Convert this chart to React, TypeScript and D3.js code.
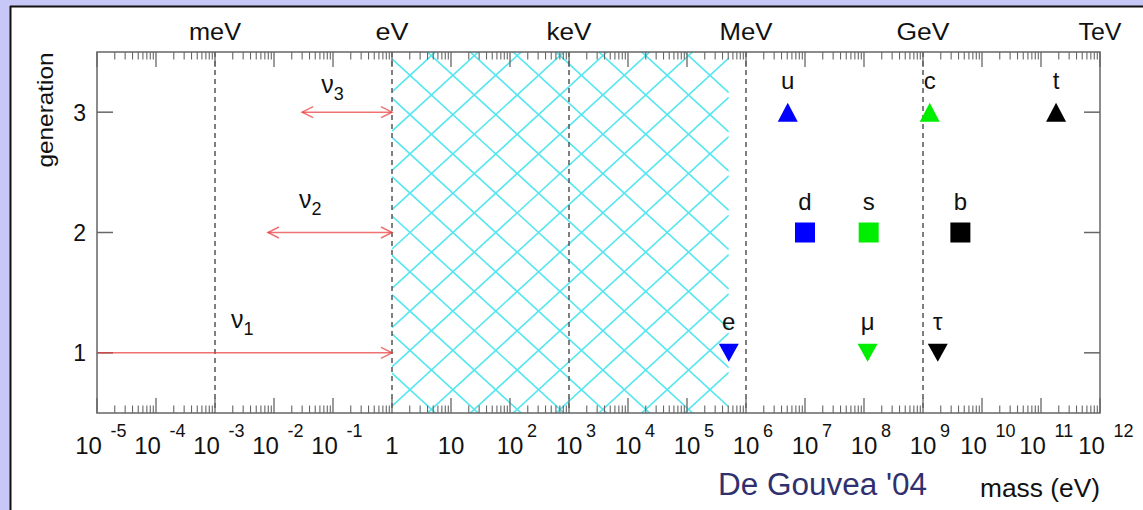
import React from "react";
import * as d3 from "d3";

const W = 1143;
const H = 510;
const FONT = "'Liberation Sans', Arial, Helvetica, sans-serif";

// ---- axis data ----
const xTickValues = [1e-5, 1e-4, 1e-3, 1e-2, 1e-1, 1, 1e1, 1e2, 1e3, 1e4, 1e5, 1e6, 1e7, 1e8, 1e9, 1e10, 1e11, 1e12];
const xTickBase = ["10", "10", "10", "10", "10", "1", "10", "10", "10", "10", "10", "10", "10", "10", "10", "10", "10", "10"];
const xTickSup = ["-5", "-4", "-3", "-2", "-1", "", "", "2", "3", "4", "5", "6", "7", "8", "9", "10", "11", "12"];
const unitLabels = ["meV", "eV", "keV", "MeV", "GeV", "TeV"];
const unitValues = [1e-3, 1, 1e3, 1e6, 1e9, 1e12];
const unitWidths = [52, 33, 45, 53, 53, 43];
const dashedValues = [1e-3, 1, 1e3, 1e6, 1e9];
const generations = [1, 2, 3];
const generationLabels = ["1", "2", "3"];

// ---- excluded (hatched) region, eV ----
const excludedRange = [1, 5.11e5];

// ---- neutrinos ----
const nuSub = ["1", "2", "3"];
const nuGen = [1, 2, 3];
const nuLow = [1e-5, 7.9e-3, 3.0e-2];
const nuHigh = [1, 1, 1];
const nuTwoSided = [false, true, true];
const nuLabelMass = [2.9e-3, 4.1e-2, 9.8e-2];
const nuLabelOffset = [25, 24.5, 19];

// ---- charged fermions ----
const fermionNames = ["u", "c", "t", "d", "s", "b", "e", "μ", "τ"];
const fermionGen = [3, 3, 3, 2, 2, 2, 1, 1, 1];
const fermionMass = [5.1e6, 1.3e9, 1.8e11, 1.0e7, 1.2e8, 4.3e9, 5.11e5, 1.15e8, 1.78e9];
const fermionShape = ["up", "up", "up", "square", "square", "square", "down", "down", "down"];
const fermionColor = ["#0000ff", "#00ee00", "#000000", "#0000ff", "#00ee00", "#000000", "#0000ff", "#00ee00", "#000000"];

export default function App() {
  const left = 97, right = 1100, top = 52, bottom = 413;
  const x = d3.scaleLog().domain([1e-5, 1e12]).range([left, right]);
  const y = d3.scaleLinear().domain([0.5, 3.5]).range([bottom, top]);

  const minorTicks: number[] = [];
  xTickValues.slice(0, -1).forEach((v) => {
    for (let m = 2; m <= 9; m++) minorTicks.push(v * m);
  });

  const axisColor = "#666";
  const tickMajor = 15, tickMinor = 7.5;

  // hatch
  const hx0 = x(excludedRange[0]);
  const hx1 = x(excludedRange[1]);
  const slope = 0.917;
  const period = 39.3;
  const ox = 410, oy = y(2);
  const hatch: string[] = [];
  for (let k = -30; k <= 30; k++) {
    const ya = (xx: number) => slope * (xx - ox) + oy + k * period;
    const yb = (xx: number) => -slope * (xx - ox) + oy + k * period;
    hatch.push(`M${hx0},${ya(hx0)}L${hx1},${ya(hx1)}`);
    hatch.push(`M${hx0},${yb(hx0)}L${hx1},${yb(hx1)}`);
  }

  const red = "#e83c3c";
  const headL = 11, headH = 5.5;

  return (
    <svg width={W} height={H} style={{ position: "absolute", left: 0, top: 0, display: "block" }} fontFamily={FONT}>
      <rect x={0} y={0} width={W} height={H} fill="#c8c8f8" />
      <rect x={10} y={6} width={W - 10} height={H - 6} fill="#ffffff" />
      <line x1={10} y1={6.5} x2={W} y2={6.5} stroke="#111" strokeWidth={2} />
      <line x1={10.5} y1={6} x2={10.5} y2={H} stroke="#111" strokeWidth={2} />

      <defs>
        <clipPath id="hatchClip">
          <rect x={hx0} y={top} width={hx1 - hx0} height={bottom - top} />
        </clipPath>
      </defs>
      <g clipPath="url(#hatchClip)">
        {hatch.map((d, i) => (
          <path key={i} d={d} stroke="#55e6ef" strokeWidth={1.6} fill="none" />
        ))}
      </g>

      {/* dashed decade lines */}
      {dashedValues.map((v, i) => (
        <line key={i} x1={x(v)} x2={x(v)} y1={top} y2={bottom} stroke="#555" strokeWidth={1.5} strokeDasharray="5 4" />
      ))}

      {/* frame */}
      <rect x={left} y={top} width={right - left} height={bottom - top} fill="none" stroke={axisColor} strokeWidth={1.5} />

      {/* x ticks bottom & top */}
      {xTickValues.map((v, i) => (
        <g key={"M" + i}>
          <line x1={x(v)} x2={x(v)} y1={bottom} y2={bottom - tickMajor} stroke={axisColor} strokeWidth={1.3} />
          <line x1={x(v)} x2={x(v)} y1={top} y2={top + tickMajor} stroke={axisColor} strokeWidth={1.3} />
        </g>
      ))}
      {minorTicks.map((v, i) => (
        <g key={"m" + i}>
          <line x1={x(v)} x2={x(v)} y1={bottom} y2={bottom - tickMinor} stroke={axisColor} strokeWidth={1.1} />
          <line x1={x(v)} x2={x(v)} y1={top} y2={top + tickMinor} stroke={axisColor} strokeWidth={1.1} />
        </g>
      ))}

      {/* x tick labels */}
      {xTickValues.map((v, i) => {
        const sup = xTickSup[i];
        const tx = x(v);
        const baseX = sup.length > 1 ? tx - 8.5 : tx;
        const supX = sup.length > 1 ? tx + 13.5 : tx + 17;
        return (
          <g key={"l" + i}>
            <text x={baseX} y={454} textAnchor="middle" fontSize={24} fill="#111">{xTickBase[i]}</text>
            {sup && (
              <text x={supX} y={436.5} textAnchor="start" fontSize={18} fill="#111">{sup}</text>
            )}
          </g>
        );
      })}

      {/* unit labels on top */}
      {unitLabels.map((u, i) => (
        <text key={u} x={x(unitValues[i])} y={40} textAnchor="middle" fontSize={23} fill="#111"
          textLength={unitWidths[i]} lengthAdjust="spacingAndGlyphs">{u}</text>
      ))}

      {/* y ticks */}
      {generations.map((g, i) => (
        <g key={"y" + i}>
          <line x1={left} x2={left + 16} y1={y(g)} y2={y(g)} stroke={axisColor} strokeWidth={1.5} />
          <line x1={right} x2={right - 16} y1={y(g)} y2={y(g)} stroke={axisColor} strokeWidth={1.5} />
          <text x={86} y={y(g) + 8.5} textAnchor="end" fontSize={23} fill="#111">{generationLabels[i]}</text>
        </g>
      ))}
      <text transform={`translate(53,110) rotate(-90)`} textAnchor="middle" fontSize={22} fill="#111"
        textLength={115} lengthAdjust="spacingAndGlyphs">generation</text>

      {/* neutrino arrows */}
      {nuGen.map((g, i) => {
        const yy = y(g);
        const x0 = x(nuLow[i]);
        const x1 = x(nuHigh[i]);
        return (
          <g key={"nu" + i} stroke={red} strokeOpacity={0.72} strokeWidth={1.5} fill="none">
            <line x1={x0} x2={x1} y1={yy} y2={yy} />
            <path d={`M${x1 - headL},${yy - headH}L${x1},${yy}L${x1 - headL},${yy + headH}`} />
            {nuTwoSided[i] && <path d={`M${x0 + headL},${yy - headH}L${x0},${yy}L${x0 + headL},${yy + headH}`} />}
          </g>
        );
      })}
      {nuGen.map((g, i) => (
        <text key={"nul" + i} x={x(nuLabelMass[i])} y={y(g) - nuLabelOffset[i]} textAnchor="middle" fontSize={25} fill="#111">
          <tspan>ν</tspan>
          <tspan fontSize={18} dy={7}>{nuSub[i]}</tspan>
        </text>
      ))}

      {/* charged fermions */}
      {fermionNames.map((n, i) => {
        const cx = x(fermionMass[i]);
        const cy = y(fermionGen[i]);
        const shape = fermionShape[i];
        let mark;
        if (shape === "square") {
          mark = <rect x={cx - 10} y={cy - 10} width={20} height={20} fill={fermionColor[i]} />;
        } else if (shape === "up") {
          mark = <path d={`M${cx - 10},${cy + 9.5}L${cx + 10},${cy + 9.5}L${cx},${cy - 9.5}Z`} fill={fermionColor[i]} />;
        } else {
          mark = <path d={`M${cx - 10},${cy - 9}L${cx + 10},${cy - 9}L${cx},${cy + 9}Z`} fill={fermionColor[i]} />;
        }
        return (
          <g key={"f" + i}>
            {mark}
            <text x={cx} y={cy - 23} textAnchor="middle" fontSize={24} fill="#111">{n}</text>
          </g>
        );
      })}

      {/* footer texts */}
      <text x={718} y={495} fontSize={31} fill="#30306e" textLength={209} lengthAdjust="spacingAndGlyphs">De Gouvea '04</text>
      <text x={980} y={497} fontSize={25} fill="#111" textLength={120} lengthAdjust="spacingAndGlyphs">mass (eV)</text>
    </svg>
  );
}
